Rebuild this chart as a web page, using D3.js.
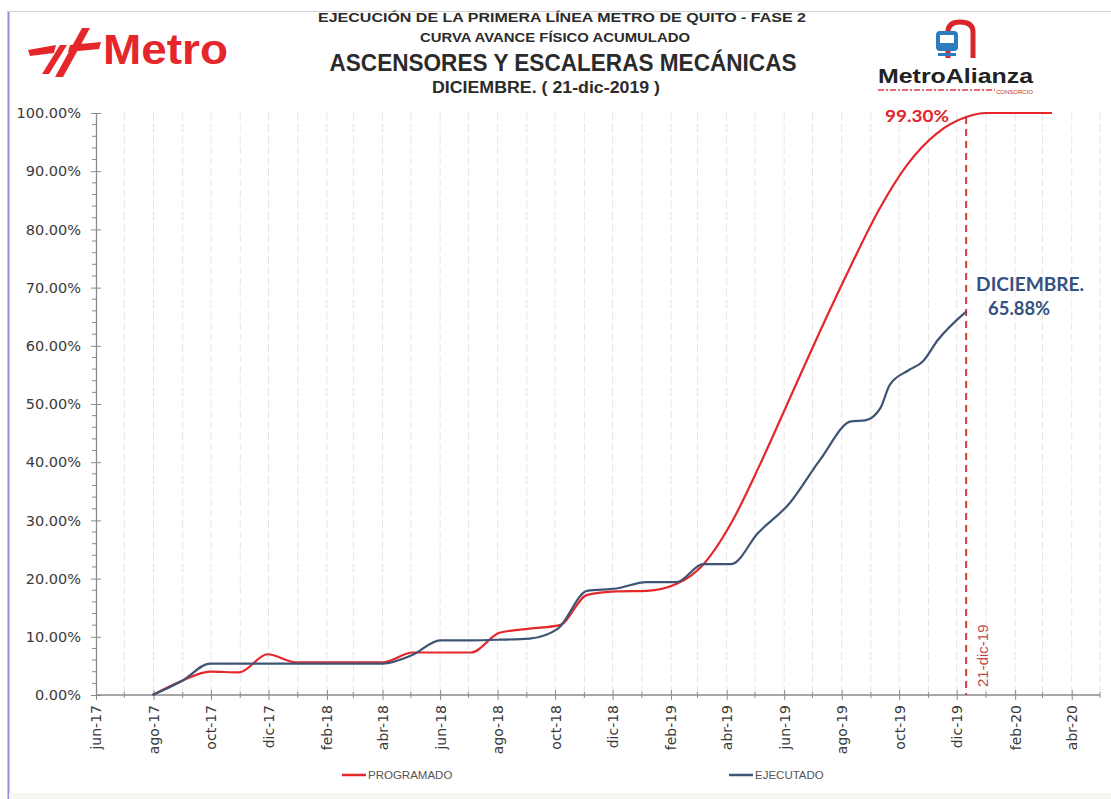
<!DOCTYPE html>
<html><head><meta charset="utf-8">
<script src="https://cdn.jsdelivr.net/npm/d3@7"></script>
<style>body{margin:0;background:#fff}svg{display:block}</style>
</head><body>
<svg id="c" width="1111" height="799"></svg>
<script>
// ---------- DATA ----------
const titleLines = [
  "EJECUCIÓN DE LA PRIMERA LÍNEA METRO DE QUITO - FASE 2",
  "CURVA AVANCE FÍSICO ACUMULADO",
  "ASCENSORES Y ESCALERAS MECÁNICAS",
  "DICIEMBRE. ( 21-dic-2019 )"
];
const seriesNames = ["PROGRAMADO", "EJECUTADO"];

const progDates = ["2017-08-10","2017-09-11","2017-10-10","2017-11-10","2017-12-10","2018-01-09","2018-02-10","2018-03-10","2018-04-11","2018-05-13","2018-06-11","2018-07-14","2018-08-13","2018-09-14","2018-10-16","2018-11-14","2018-12-15","2019-01-16","2019-02-17","2019-03-17","2019-04-16","2019-05-16","2019-06-17","2019-07-19","2019-08-20","2019-09-20","2019-10-19","2019-11-20","2019-12-21","2020-01-11","2020-03-21"];
const progValues = [0,2.5,4.0,3.9,7.0,5.6,5.6,5.6,5.6,7.3,7.3,7.3,10.7,11.4,12.0,17.2,17.8,17.9,19.1,22.4,29.6,39.5,51.0,62.5,73.5,83.5,91.0,96.5,99.3,100,100];

const ejecDates = ["2017-08-10","2017-09-11","2017-10-10","2017-11-10","2017-12-10","2018-01-09","2018-02-10","2018-03-10","2018-04-11","2018-05-13","2018-06-11","2018-07-13","2018-08-13","2018-09-14","2018-10-14","2018-11-14","2018-12-15","2019-01-16","2019-02-17","2019-03-17","2019-04-16","2019-05-14","2019-06-17","2019-07-19","2019-08-21","2019-09-05","2019-09-21","2019-10-01","2019-10-21","2019-11-05","2019-11-21","2019-12-21"];
const ejecValues = [0,2.5,5.4,5.4,5.4,5.4,5.4,5.4,5.4,6.9,9.4,9.4,9.5,9.7,11.4,17.9,18.3,19.4,19.4,22.5,22.5,27.8,33.0,40.4,47.0,47.2,49.3,53.3,55.8,57.3,61.0,65.88];

const yTickValues = [0,10,20,30,40,50,60,70,80,90,100];
const xTickLabels = ["jun-17","ago-17","oct-17","dic-17","feb-18","abr-18","jun-18","ago-18","oct-18","dic-18","feb-19","abr-19","jun-19","ago-19","oct-19","dic-19","feb-20","abr-20"];
const xStart = "2017-06-11", xEnd = "2020-05-11";
const cutoffDate = "2019-12-21", cutoffLabel = "21-dic-19";
const progNote = "99.30%", progNoteValue = 99.3;
const ejecNote = ["DICIEMBRE.", "65.88%"], ejecNoteValue = 65.88;

// ---------- SETUP ----------
const parse = d3.timeParse("%Y-%m-%d");
const svg = d3.select("#c");
const RED = "#e5262b", BLUE = "#3e5474", AX = "#8a8a8a", TXT = "#3a3a3a";

const x = d3.scaleTime().domain([parse(xStart), parse(xEnd)]).range([96, 1100]);
const y = d3.scaleLinear().domain([0, 100]).range([695, 113]);

// frame
svg.append("line").attr("x1",8.5).attr("x2",8.5).attr("y1",11).attr("y2",799).attr("stroke","#8f8fdc").attr("stroke-width",2);
svg.append("line").attr("x1",8).attr("x2",1111).attr("y1",11.5).attr("y2",11.5).attr("stroke","#d0d0d0").attr("stroke-width",1);
svg.append("rect").attr("x",9).attr("y",793).attr("width",1102).attr("height",6).attr("fill","#f7f5ef");

// ---------- TITLES ----------
const titleSpec = [
  {cx:562, by:22, fs:13.5, w:488},
  {cx:555, by:42, fs:13.5, w:270},
  {cx:563, by:71, fs:23, w:467},
  {cx:546, by:93, fs:16, w:228}
];
titleLines.forEach((t,i)=>{
  const s = titleSpec[i];
  svg.append("text").attr("x", s.cx - s.w/2).attr("y", s.by)
    .attr("font-family","'Liberation Sans Narrow','Liberation Sans',Arial,sans-serif")
    .attr("font-weight","bold").attr("font-size", s.fs).attr("fill","#2b2b2b")
    .attr("textLength", s.w).attr("lengthAdjust","spacingAndGlyphs").text(t);
});

// Metro logo (left)
const lg = svg.append("g").attr("fill", RED);
lg.append("path").attr("d","M28,50 L56,45 L54,53 L30,56 Z");
lg.append("path").attr("d","M70,45 L101,42 L99,49 L68,52 Z");
lg.append("path").attr("d","M42,74 L60,45 L67,45 L49,74 Z");
lg.append("path").attr("d","M55,77 L82,28 L90,28 L63,77 Z");
svg.append("text").attr("x",103).attr("y",64).attr("font-family","'Liberation Sans',Arial,sans-serif")
  .attr("font-weight","bold").attr("font-size",43).attr("fill",RED)
  .attr("textLength",125).attr("lengthAdjust","spacingAndGlyphs").text("Metro");

// MetroAlianza logo (right)
const rg = svg.append("g");
rg.append("path").attr("d","M948,58 L948,32 Q948,22 960,22 Q973,22 973,32 L973,58").attr("fill","none").attr("stroke","#d9262b").attr("stroke-width",5);
rg.append("rect").attr("x",936).attr("y",31).attr("width",22).attr("height",20).attr("rx",4).attr("fill","#2c7cc0");
rg.append("rect").attr("x",940).attr("y",35).attr("width",14).attr("height",8).attr("fill","#ffffff");
rg.append("rect").attr("x",938).attr("y",53).attr("width",18).attr("height",3).attr("fill","#2c7cc0");
svg.append("text").attr("x",878).attr("y",83).attr("font-family","'Liberation Sans',Arial,sans-serif")
  .attr("font-weight","bold").attr("font-size",20.5).attr("fill","#222")
  .attr("textLength",155).attr("lengthAdjust","spacingAndGlyphs").text("MetroAlianza");
svg.append("line").attr("x1",878).attr("x2",995).attr("y1",90).attr("y2",90).attr("stroke","#e0393e").attr("stroke-width",1.5).attr("stroke-dasharray","6,2,2,2");
svg.append("text").attr("x",996).attr("y",93.5).attr("font-family","'Liberation Sans',Arial,sans-serif")
  .attr("font-size",5.5).attr("fill","#c03030").attr("textLength",37).attr("lengthAdjust","spacingAndGlyphs").text("CONSORCIO");

// ---------- GRID ----------
const monthTicks = d3.range(0, 36).map(i => d3.timeMonth.offset(parse(xStart), i)).filter(d => d <= parse(xEnd));
svg.append("g").selectAll("line").data(monthTicks.slice(1)).join("line")
  .attr("x1", d=>x(d)).attr("x2", d=>x(d)).attr("y1", y(100)).attr("y2", y(0))
  .attr("stroke","#e6e6e6").attr("stroke-width",1).attr("stroke-dasharray","8,3");

// ---------- AXES ----------
const majorTicks = xTickLabels.map((_, i) => d3.timeMonth.offset(parse(xStart), 2*i));
const gx = svg.append("g").attr("transform",`translate(0,${y(0)})`)
  .call(d3.axisBottom(x).tickValues(majorTicks).tickFormat((d,i)=>xTickLabels[i]).tickSizeInner(6).tickSizeOuter(0));
gx.select(".domain").attr("stroke",AX).attr("stroke-width",1.3).attr("d",`M${x.range()[0]},0H${x.range()[1]}`);
gx.selectAll(".tick line").attr("stroke",AX).attr("y1",-5).attr("y2",5);
gx.selectAll(".tick text").attr("transform","rotate(-90)").attr("text-anchor","end")
  .attr("x",-10).attr("y",0).attr("dy","0.35em")
  .attr("font-family","'DejaVu Sans',sans-serif").attr("font-size",14).attr("fill",TXT);
// minor x ticks
gx.append("g").selectAll("line").data(monthTicks.filter((d,i)=>i%2===1)).join("line")
  .attr("x1",d=>x(d)).attr("x2",d=>x(d)).attr("y1",-3).attr("y2",3).attr("stroke",AX);

const gy = svg.append("g").attr("transform",`translate(${x.range()[0]},0)`)
  .call(d3.axisLeft(y).tickValues(yTickValues).tickFormat(d=>d3.format(".2%")(d/100)).tickSizeInner(5).tickSizeOuter(0));
gy.select(".domain").attr("stroke",AX).attr("stroke-width",1.3);
gy.selectAll(".tick line").attr("stroke",AX).attr("x1",-5).attr("x2",5);
gy.selectAll(".tick text").attr("x",-15).attr("font-family","'DejaVu Sans',sans-serif").attr("font-size",14.5).attr("fill",TXT);
gy.append("g").selectAll("line").data(d3.range(0,100,2).filter(v=>v%10!==0)).join("line")
  .attr("x1",-4).attr("x2",0).attr("y1",d=>y(d)).attr("y2",d=>y(d)).attr("stroke",AX);

// ---------- CUTOFF LINE ----------
svg.append("line").attr("x1",x(parse(cutoffDate))).attr("x2",x(parse(cutoffDate)))
  .attr("y1",y(progNoteValue)).attr("y2",y(0))
  .attr("stroke","#d93a3a").attr("stroke-width",2).attr("stroke-dasharray","7,5");
svg.append("text").attr("transform",`translate(${x(parse(cutoffDate))+22},${y(0)-8}) rotate(-90)`)
  .attr("font-family","'Liberation Sans',Arial,sans-serif").attr("font-size",15).attr("fill","#c44a4a")
  .text(cutoffLabel);

// ---------- LINES ----------
const prog = progDates.map((d,i)=>({date:parse(d), v:progValues[i]}));
const ejec = ejecDates.map((d,i)=>({date:parse(d), v:ejecValues[i]}));
const line = d3.line().x(d=>x(d.date)).y(d=>y(d.v)).curve(d3.curveMonotoneX);
svg.append("path").datum(prog).attr("d",line).attr("fill","none").attr("stroke",RED).attr("stroke-width",2.2).attr("stroke-linejoin","round");
svg.append("path").datum(ejec).attr("d",line).attr("fill","none").attr("stroke",BLUE).attr("stroke-width",2.2).attr("stroke-linejoin","round");

// ---------- ANNOTATIONS ----------
const cx = x(parse(cutoffDate));
svg.append("text").attr("x",cx-81).attr("y",y(progNoteValue)+5)
  .attr("font-family","Lato,'Liberation Sans',sans-serif").attr("font-weight","bold").attr("font-size",17)
  .attr("fill","#e0262b").attr("textLength",64).attr("lengthAdjust","spacingAndGlyphs").text(progNote);
svg.append("text").attr("x",cx+10).attr("y",291)
  .attr("font-family","Lato,'Liberation Sans',sans-serif").attr("font-weight","bold").attr("font-size",18)
  .attr("fill","#34527f").attr("textLength",108).attr("lengthAdjust","spacingAndGlyphs").text(ejecNote[0]);
svg.append("text").attr("x",cx+22).attr("y",315)
  .attr("font-family","Lato,'Liberation Sans',sans-serif").attr("font-weight","bold").attr("font-size",18)
  .attr("fill","#34527f").attr("textLength",62).attr("lengthAdjust","spacingAndGlyphs").text(ejecNote[1]);

// ---------- LEGEND ----------
const legend = [{name:seriesNames[0], color:RED, x:342}, {name:seriesNames[1], color:BLUE, x:729}];
legend.forEach(l=>{
  svg.append("line").attr("x1",l.x).attr("x2",l.x+24).attr("y1",775).attr("y2",775).attr("stroke",l.color).attr("stroke-width",2.5);
  svg.append("text").attr("x",l.x+26).attr("y",779).attr("font-family","'Liberation Sans',Arial,sans-serif")
    .attr("font-size",11.5).attr("fill","#555").text(l.name);
});
</script>
</body></html>
